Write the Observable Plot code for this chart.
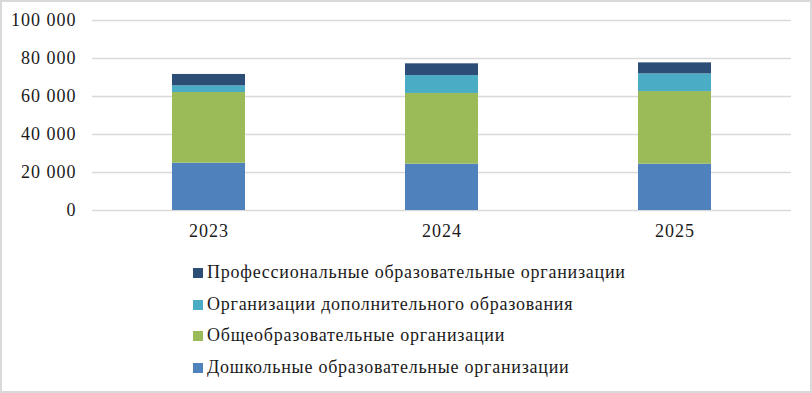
<!DOCTYPE html>
<html>
<head>
<meta charset="utf-8">
<script src="https://cdn.jsdelivr.net/npm/d3@7"></script>
<script src="https://cdn.jsdelivr.net/npm/@observablehq/plot@0.6"></script>
<style>
  html, body { margin: 0; padding: 0; background: #fff; }
  #wrap { position: relative; width: 812px; height: 393px; overflow: hidden; font-family: 'Times New Roman', 'Liberation Serif', 'DejaVu Serif', serif; }
  #border { position: absolute; left: 0; top: 0; width: 812px; height: 393px; box-sizing: border-box; border: 2px solid #d9d9d9; pointer-events: none; }
  #legend { position: absolute; left: 193px; top: 257px; font-size: 18px; letter-spacing: 0.75px; color: #1a1a1a; }
  .row { height: 31.7px; line-height: 31.7px; display: flex; align-items: center; white-space: nowrap; }
  .sw { width: 10px; height: 10px; margin-right: 4px; }
  #chart svg, #chart svg text { font-family: 'Times New Roman', 'Liberation Serif', 'DejaVu Serif', serif !important; }
  #chart svg text { font-size: 18px !important; letter-spacing: 1px; fill: #1a1a1a; }
</style>
</head>
<body>
<div id="wrap">
  <div id="chart"></div>
  <div id="legend"></div>
  <div id="border"></div>
</div>
<script>
const years = ["2023", "2024", "2025"];
const seriesNames = [
  "Дошкольные образовательные организации",
  "Общеобразовательные организации",
  "Организации дополнительного образования",
  "Профессиональные образовательные организации"
];
const preschool = [24900, 24400, 24400];
const general = [37200, 37200, 38200];
const additional = [3500, 9400, 9300];
const professional = [6000, 6200, 5800];
const colors = ["#4f81bd", "#9bbb59", "#4bacc6", "#2c4d75"];
const yTicks = [0, 20000, 40000, 60000, 80000, 100000];

const seriesValues = [preschool, general, additional, professional];
const data = [];
seriesNames.forEach((s, i) => years.forEach((y, j) => data.push({year: y, series: s, value: seriesValues[i][j]})));

const fmt = d => d3.format(",")(d).replace(/,/g, " ");

const chart = Plot.plot({
  width: 812,
  height: 250,
  marginTop: 20,
  marginBottom: 40,
  marginLeft: 92,
  marginRight: 21,
  style: {fontSize: "18px", color: "#1a1a1a", background: "transparent"},
  x: {domain: years, paddingInner: 0.686, paddingOuter: 0.343, label: null},
  y: {domain: [0, 100000], label: null},
  color: {domain: seriesNames, range: colors},
  marks: [
    Plot.gridY(yTicks, {stroke: "#d9d9d9", strokeOpacity: 1, strokeWidth: 1.5}),
    Plot.barY(data, Plot.stackY({order: seriesNames}, {x: "year", y: "value", fill: "series", inset: 0})),
    Plot.axisY({ticks: yTicks, tickFormat: fmt, tickSize: 0, tickPadding: 16, label: null, fontSize: 18}),
    Plot.axisX({tickSize: 0, tickPadding: 14, label: null, fontSize: 18})
  ]
});
document.getElementById("chart").appendChild(chart);

const legend = document.getElementById("legend");
seriesNames.slice().reverse().forEach((s) => {
  const i = seriesNames.indexOf(s);
  const row = document.createElement("div");
  row.className = "row";
  const sw = document.createElement("div");
  sw.className = "sw";
  sw.style.background = colors[i];
  const t = document.createElement("span");
  t.textContent = s;
  row.appendChild(sw);
  row.appendChild(t);
  legend.appendChild(row);
});
</script>
</body>
</html>
